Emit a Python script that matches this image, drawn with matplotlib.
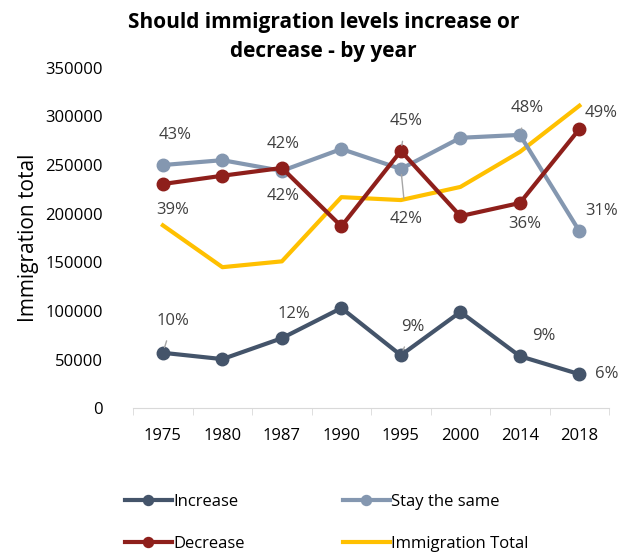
import matplotlib.pyplot as plt

# data
years = ["1975", "1980", "1987", "1990", "1995", "2000", "2014", "2018"]
increase = [57000, 50500, 72000, 103000, 54500, 99000, 53500, 35000]
stay_same = [250000, 255000, 244000, 266500, 246000, 278000, 281000, 182000]
decrease = [230500, 239000, 247000, 187000, 264500, 197500, 211000, 287000]
immigration_total = [188000, 145000, 151000, 217000, 214000, 227500, 263500, 311000]

# percentage labels: (index, text, dx, dy, leader)
labels_increase = [(0, "10%", 10, 32, True), (2, "12%", 12, 24, False),
                   (4, "9%", 12, 28, True), (6, "9%", 24, 20, False),
                   (7, "6%", 27, 0, False)]
labels_stay = [(0, "43%", 12, 30, False), (2, "42%", 1, -25, False),
               (4, "42%", 5, -50, True), (6, "48%", 7, 27, True),
               (7, "31%", 22, 20, False)]
labels_decrease = [(0, "39%", 10, -26, False), (2, "42%", 1, 24, False),
                   (4, "45%", 5, 30, True), (6, "36%", 5, -21, False),
                   (7, "49%", 22, 16, False)]

c_inc = "#44546A"
c_stay = "#8497B0"
c_dec = "#8E1F1B"
c_tot = "#FFC000"

plt.rcParams["font.family"] = ["Open Sans", "DejaVu Sans"]

fig = plt.figure(figsize=(6.28, 5.6), dpi=100)
ax = fig.add_axes([0.212, 0.271, 0.758, 0.608])

x = list(range(len(years)))

ax.plot(x, immigration_total, color=c_tot, lw=3, label="Immigration Total", zorder=2)
ax.plot(x, stay_same, color=c_stay, lw=3, marker="o", ms=9, label="Stay the same", zorder=3)
ax.plot(x, decrease, color=c_dec, lw=3, marker="o", ms=9, label="Decrease", zorder=4)
ax.plot(x, increase, color=c_inc, lw=3, marker="o", ms=9, label="Increase", zorder=4)


def add_labels(values, labels):
    for i, text, dx, dy, leader in labels:
        props = None
        if leader:
            props = dict(arrowstyle="-", color="#A6A6A6", lw=1,
                         shrinkA=7, shrinkB=4)
        ax.annotate(text, (i, values[i]), xytext=(dx, dy),
                    textcoords="offset pixels", ha="center", va="center",
                    fontsize=12, color="#404040", arrowprops=props, zorder=5)


add_labels(increase, labels_increase)
add_labels(stay_same, labels_stay)
add_labels(decrease, labels_decrease)

ax.set_xlim(-0.5, 7.5)
ax.set_ylim(0, 350000)
ax.set_yticks(range(0, 350001, 50000))
ax.set_xticks(x)
ax.set_xticklabels(years)
ax.set_xticks([i - 0.5 for i in range(len(years) + 1)], minor=True)
ax.tick_params(axis="x", which="major", length=0, pad=14, labelsize=12)
ax.tick_params(axis="x", which="minor", length=5, color="#D9D9D9")
ax.tick_params(axis="y", length=0, pad=22, labelsize=12)

for side in ["top", "right", "left"]:
    ax.spines[side].set_visible(False)
ax.spines["bottom"].set_color("#D9D9D9")

ax.set_ylabel("Immigration total", fontsize=15, labelpad=4)

fig.suptitle("Should immigration levels increase or\ndecrease - by year",
             x=0.515, y=0.978, fontsize=15, fontweight="bold", linespacing=1.5)

handles, lbls = ax.get_legend_handles_labels()
order = [3, 2, 1, 0]
leg = fig.legend([handles[i] for i in order], [lbls[i] for i in order],
                 ncol=2, loc="lower left", bbox_to_anchor=(0.175, -0.012),
                 frameon=False, fontsize=12, handlelength=2.8, handletextpad=0.1,
                 columnspacing=5.9, labelspacing=1.55, markerscale=0.8)

fig.savefig("out.png", dpi=100)
